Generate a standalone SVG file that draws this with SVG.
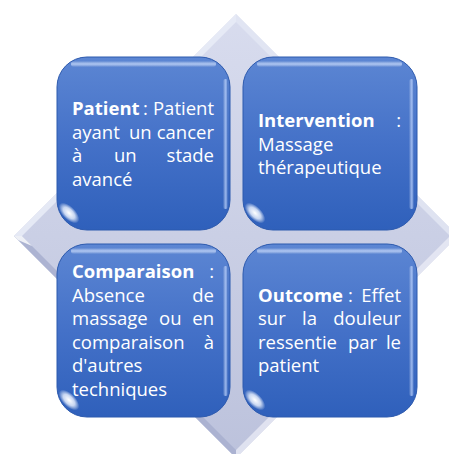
<svg xmlns="http://www.w3.org/2000/svg" width="449" height="454" viewBox="0 0 449 454">
<defs>
<linearGradient id="dia" x1="0" y1="0" x2="0" y2="1">
<stop offset="0" stop-color="#d8dcee"/>
<stop offset="1" stop-color="#bcc2dc"/>
</linearGradient>
<linearGradient id="box" x1="0" y1="0" x2="0" y2="1">
<stop offset="0" stop-color="#5c86d3"/>
<stop offset="0.5" stop-color="#4471c8"/>
<stop offset="1" stop-color="#2f60bb"/>
</linearGradient>
<linearGradient id="topgloss" x1="0" y1="0" x2="0" y2="1">
<stop offset="0" stop-color="#ffffff" stop-opacity="0"/>
<stop offset="0.5" stop-color="#cfe0ff" stop-opacity="0.7"/>
<stop offset="1" stop-color="#ffffff" stop-opacity="0"/>
</linearGradient>
<linearGradient id="rightgloss" x1="0" y1="0" x2="1" y2="0">
<stop offset="0" stop-color="#ffffff" stop-opacity="0"/>
<stop offset="0.6" stop-color="#bcd3ff" stop-opacity="0.75"/>
<stop offset="1" stop-color="#3a66b8" stop-opacity="0.6"/>
</linearGradient>
<radialGradient id="spot" cx="0.5" cy="0.5" r="0.5">
<stop offset="0" stop-color="#ffffff" stop-opacity="1"/>
<stop offset="0.55" stop-color="#eef4ff" stop-opacity="0.8"/>
<stop offset="1" stop-color="#ffffff" stop-opacity="0"/>
</radialGradient>
<g id="gloss">
<rect x="14" y="4" width="145" height="6" rx="3" fill="url(#topgloss)"/>
<rect x="166" y="22" width="5" height="130" rx="2.5" fill="url(#rightgloss)"/>
<ellipse cx="0" cy="0" rx="13" ry="6.5" fill="url(#spot)" transform="translate(12 156) rotate(45)"/>
</g>
</defs>
<style>
.box{fill:url(#box);stroke:#2d5aae;stroke-width:1}
text{font-family:"Open Sans","Liberation Sans",sans-serif;font-size:18.5px;fill:#ffffff}
.b{font-weight:bold}
.e{text-anchor:end}
</style>
<g id="background">
<polygon points="236,14 458,236 236,458 14,236" fill="url(#dia)"/>
<polygon points="236,14 458,236 450,236 236,22" fill="#e4e7f4" opacity="0.8"/>
<polygon points="236,14 14,236 22,236 236,22" fill="#e8ebf6" opacity="0.9"/>
<polygon points="14,236 236,458 236,450 22,236" fill="#a9b0cf" opacity="0.9"/>
<polygon points="14,236 22,236 32,246 18,240" fill="#ffffff" opacity="0.8"/>
<polygon points="458,236 236,458 236,450 450,236" fill="#eef0f8" opacity="0.7"/>
</g>
<g id="patient">
<rect class="box" x="57" y="57" width="173" height="173" rx="30"/>
<use href="#gloss" x="57" y="57"/>
<text x="72" y="115" class="b">Patient</text>
<text x="143" y="115">:</text>
<text x="214" y="115" class="e">Patient</text>
<text x="72" y="138.5">ayant</text>
<text x="129" y="138.5">un</text>
<text x="214" y="138.5" class="e">cancer</text>
<text x="72" y="162">à</text>
<text x="114" y="162">un</text>
<text x="214" y="162" class="e">stade</text>
<text x="72" y="185.5">avancé</text>
</g>
<g id="intervention">
<rect class="box" x="243" y="57" width="174" height="173" rx="30"/>
<use href="#gloss" x="243" y="57"/>
<text x="258" y="127" class="b">Intervention</text>
<text x="401" y="127" class="e">:</text>
<text x="258" y="150.5">Massage</text>
<text x="258" y="174">thérapeutique</text>
</g>
<g id="comparaison">
<rect class="box" x="57" y="244" width="173" height="173" rx="30"/>
<use href="#gloss" x="57" y="244"/>
<text x="72" y="278" class="b">Comparaison</text>
<text x="214" y="278" class="e">:</text>
<text x="72" y="301.5">Absence</text>
<text x="214" y="301.5" class="e">de</text>
<text x="72" y="325">massage</text>
<text x="159" y="325">ou</text>
<text x="214" y="325" class="e">en</text>
<text x="72" y="348.5">comparaison</text>
<text x="214" y="348.5" class="e">à</text>
<text x="72" y="372">d'autres</text>
<text x="72" y="395.5">techniques</text>
</g>
<g id="outcome">
<rect class="box" x="243" y="244" width="174" height="173" rx="30"/>
<use href="#gloss" x="243" y="244"/>
<text x="258" y="301.5" class="b">Outcome</text>
<text x="348" y="301.5">:</text>
<text x="401" y="301.5" class="e">Effet</text>
<text x="258" y="325">sur</text>
<text x="302" y="325">la</text>
<text x="401" y="325" class="e">douleur</text>
<text x="258" y="348.5">ressentie</text>
<text x="348" y="348.5">par</text>
<text x="401" y="348.5" class="e">le</text>
<text x="258" y="372">patient</text>
</g>
<g id="connectors"/>
</svg>
